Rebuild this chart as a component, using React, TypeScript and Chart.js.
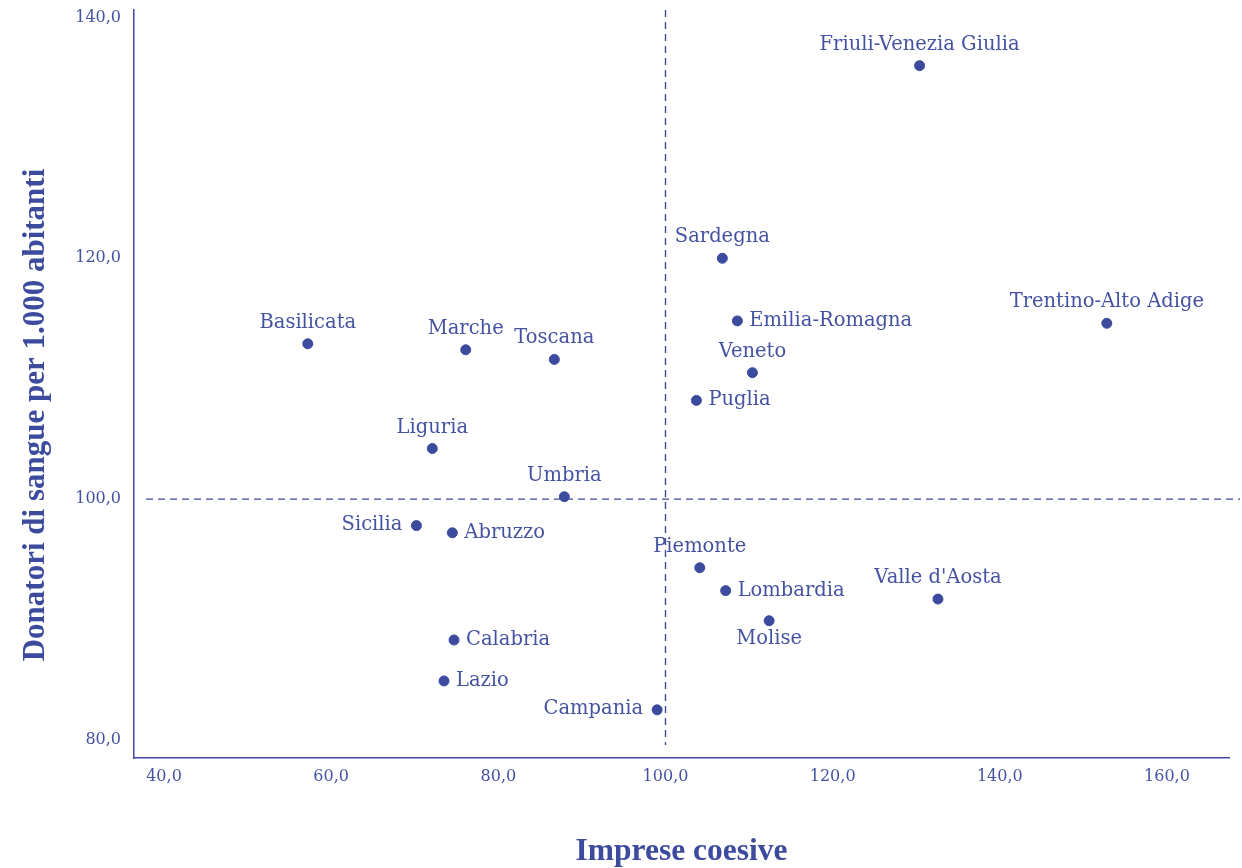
import React, { useEffect, useRef } from "react";
import { Chart, registerables } from "chart.js";

Chart.register(...registerables);

// ---- data ----
const regions = [
  "Friuli-Venezia Giulia", "Sardegna", "Emilia-Romagna", "Trentino-Alto Adige",
  "Basilicata", "Marche", "Toscana", "Veneto", "Puglia", "Liguria", "Umbria",
  "Sicilia", "Abruzzo", "Piemonte", "Lombardia", "Valle d'Aosta", "Molise",
  "Calabria", "Lazio", "Campania",
];
const impreseCoesive = [
  130.4, 106.8, 108.6, 152.8, 57.2, 76.1, 86.7, 110.4, 103.7, 72.1, 87.9,
  70.2, 74.5, 104.1, 107.2, 132.6, 112.4, 74.7, 73.5, 99.0,
];
const donatori = [
  136.0, 120.0, 114.8, 114.6, 112.9, 112.4, 111.6, 110.5, 108.2, 104.2, 100.2,
  97.8, 97.2, 94.3, 92.4, 91.7, 89.9, 88.3, 84.9, 82.5,
];
const xTickValues = [40, 60, 80, 100, 120, 140, 160];
const yTickValues = [80, 100, 120, 140];
const refX = 100;
const refY = 100;
const xTitle = "Imprese coesive";
const yTitle = "Donatori di sangue per 1.000 abitanti";

// ---- style ----
const labelPlacement = [
  "above", "above", "right", "above", "above", "above", "above", "above",
  "right", "above", "above", "left", "right", "above", "right", "above",
  "below", "right", "right", "left",
];
const BLUE = "#3d4b9f";
const TEXT = "#4452a1";
const LABEL_FONT = "'DejaVu Serif', serif";
const TITLE_FONT = "'Liberation Serif', 'Times New Roman', serif";

const fmt = (v: number) => v.toFixed(1).replace(".", ",");

const decorPlugin = {
  id: "decor",
  beforeDatasetsDraw(chart: any) {
    const { ctx, chartArea, scales } = chart;
    const x = scales.x.getPixelForValue(refX);
    const y = scales.y.getPixelForValue(refY);
    ctx.save();
    ctx.strokeStyle = BLUE;
    ctx.lineWidth = 1.4;
    ctx.setLineDash([7, 5]);
    ctx.beginPath();
    ctx.moveTo(x, chartArea.top);
    ctx.lineTo(x, chartArea.bottom - 13);
    ctx.stroke();
    ctx.beginPath();
    ctx.moveTo(chartArea.left + 12, y);
    ctx.lineTo(chart.width - 2, y);
    ctx.stroke();
    ctx.restore();
  },
  afterDatasetsDraw(chart: any) {
    const { ctx } = chart;
    const meta = chart.getDatasetMeta(0);
    ctx.save();
    ctx.fillStyle = TEXT;
    ctx.font = `19.5px ${LABEL_FONT}`;
    ctx.textBaseline = "middle";
    meta.data.forEach((pt: any, i: number) => {
      const p = labelPlacement[i];
      const name = regions[i];
      if (p === "above") {
        ctx.textAlign = "center";
        ctx.fillText(name, pt.x, pt.y - 21);
      } else if (p === "below") {
        ctx.textAlign = "center";
        ctx.fillText(name, pt.x, pt.y + 18);
      } else if (p === "right") {
        ctx.textAlign = "left";
        ctx.fillText(name, pt.x + 12, pt.y);
      } else {
        ctx.textAlign = "right";
        ctx.fillText(name, pt.x - 14, pt.y - 1);
      }
    });
    // y axis title
    ctx.save();
    ctx.translate(36, 415);
    ctx.rotate(-Math.PI / 2);
    ctx.textAlign = "center";
    ctx.textBaseline = "middle";
    ctx.fillStyle = BLUE;
    ctx.font = `bold 31px ${TITLE_FONT}`;
    ctx.fillText(yTitle, 0, 0);
    ctx.restore();
    ctx.restore();
  },
};

export default function App() {
  const ref = useRef<HTMLCanvasElement>(null);
  useEffect(() => {
    if (!ref.current) return;
    const chart = new Chart(ref.current, {
      type: "scatter",
      data: {
        datasets: [
          {
            label: "Regioni",
            data: impreseCoesive.map((v, i) => ({ x: v, y: donatori[i] })),
            backgroundColor: BLUE,
            borderColor: BLUE,
            pointRadius: 5,
            pointHoverRadius: 5,
          },
        ],
      },
      plugins: [decorPlugin],
      options: {
        animation: false,
        responsive: true,
        maintainAspectRatio: false,
        layout: { padding: { top: 10, right: 13, left: 0, bottom: 0 } },
        plugins: {
          legend: { display: false },
          tooltip: { enabled: false },
        },
        scales: {
          x: {
            type: "linear",
            min: 36.41,
            max: 167.42,
            afterBuildTicks: (s: any) => {
              s.ticks = xTickValues.map((v) => ({ value: v }));
            },
            afterFit: (s: any) => {
              s.height = 110;
              s.paddingLeft = 0;
              s.paddingRight = 0;
            },
            grid: { display: false, drawTicks: false },
            border: { display: true, color: BLUE, width: 1.5 },
            ticks: {
              color: TEXT,
              padding: 9,
              font: { family: LABEL_FONT, size: 16 },
              callback: (v: any) => fmt(Number(v)),
            },
            title: {
              display: true,
              text: xTitle,
              color: BLUE,
              font: { family: TITLE_FONT, size: 31.5, weight: "bold", lineHeight: 1.0 },
              padding: { top: 0, bottom: 0 },
            },
          },
          y: {
            type: "linear",
            min: 78.5,
            max: 140.62,
            afterBuildTicks: (s: any) => {
              s.ticks = yTickValues.map((v) => ({ value: v }));
            },
            afterFit: (s: any) => {
              s.width = 134;
              s.paddingTop = 0;
              s.paddingBottom = 0;
            },
            grid: { display: false, drawTicks: false },
            border: { display: true, color: BLUE, width: 1.5 },
            ticks: {
              color: TEXT,
              padding: 13,
              font: { family: LABEL_FONT, size: 16 },
              callback: (v: any) => fmt(Number(v)),
            },
          },
        },
      },
    });
    return () => chart.destroy();
  }, []);
  return (
    <div style={{ position: "fixed", left: 0, top: 0, width: 1242, height: 868, background: "#fff" }}>
      <canvas ref={ref} />
    </div>
  );
}
